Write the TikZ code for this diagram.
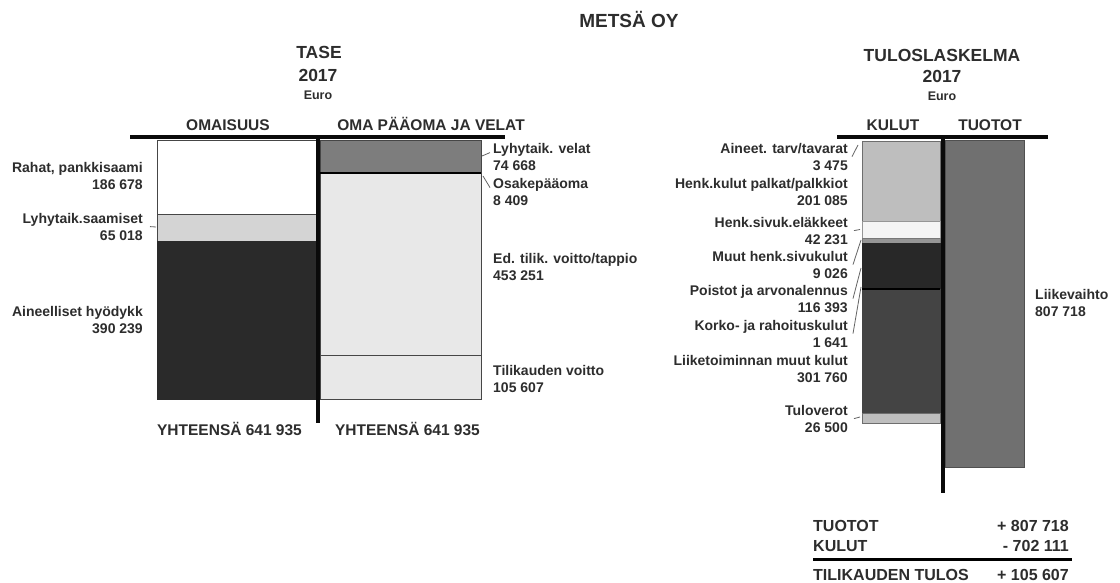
\documentclass[tikz,border=0pt]{standalone}
\usepackage{xcolor}
\usepackage{fontspec}
\setmainfont{Liberation Sans}
\usepackage{tikz}

\begin{document}
\begin{tikzpicture}[x=1pt,y=-1pt]
	\tikzstyle{every node}=[font=\bfseries, inner sep=0pt, text={rgb,255:red,45; green,45; blue,45}]
	\tikzstyle{lbl}=[font=\bfseries\fontsize{14}{17}\selectfont]
	\tikzstyle{head}=[font=\bfseries\fontsize{17.5}{17.5}\selectfont, anchor=base]
	\tikzstyle{colhead}=[font=\bfseries\fontsize{15.5}{15.5}\selectfont, anchor=base]
	\tikzstyle{euro}=[font=\bfseries\fontsize{12.5}{12.5}\selectfont, anchor=base]
	\tikzstyle{tbl}=[font=\bfseries\fontsize{16}{16}\selectfont]
	\tikzstyle{bar}=[line width=4pt, color={rgb,255:red,10; green,10; blue,10}]
	\tikzstyle{leader}=[line width=0.8pt, color={rgb,255:red,100; green,100; blue,100}]
	\useasboundingbox [fill=white] (0,0) rectangle (1120,583);
	\node [head, font=\bfseries\fontsize{19}{19}\selectfont] (metsa) at (629,28) {METSÄ OY};
	% TASE
	\node [head] (tase) at (319,59) {TASE};
	\node [head] (tasevuosi) at (318,82) {2017};
	\node [euro] (taseeuro) at (318,100) {Euro};
	\node [colhead] (omaisuus) at (228,131) {OMAISUUS};
	\node [colhead] (omapaaoma) at (431,131) {OMA PÄÄOMA JA VELAT};
	\draw [color={rgb,255:red,70; green,70; blue,70}, fill=white] (157,140) rectangle (316,214);
	\draw [color={rgb,255:red,70; green,70; blue,70}, fill={rgb,255:red,212; green,212; blue,212}] (157,214) rectangle (316,241);
	\draw [color={rgb,255:red,42; green,42; blue,42}, fill={rgb,255:red,42; green,42; blue,42}] (157,241) rectangle (316,399);
	\draw [color={rgb,255:red,70; green,70; blue,70}, fill={rgb,255:red,125; green,125; blue,125}] (320,140) rectangle (481,173);
	\draw [color={rgb,255:red,70; green,70; blue,70}, fill={rgb,255:red,232; green,232; blue,232}] (320,173) rectangle (481,355);
	\draw [color={rgb,255:red,70; green,70; blue,70}, fill={rgb,255:red,232; green,232; blue,232}] (320,355) rectangle (481,399);
	\draw [line width=2.5pt] (320,173) -- (481,173);
	\draw [bar] (130,137) -- (505,137);
	\draw [bar] (318,137) -- (318,423);
	\node [lbl, anchor=east, align=right] (rahat) at (143,176.3) {Rahat, pankkisaami\\186 678};
	\node [lbl, anchor=east, align=right] (lsaamiset) at (143,226.6) {Lyhytaik.saamiset\\65 018};
	\node [lbl, anchor=east, align=right] (aineelliset) at (143,319.6) {Aineelliset hyödykk\\390 239};
	\node [lbl, anchor=west, align=left] (lvelat) at (493,156.6) {Lyhytaik. velat\\74 668};
	\node [lbl, anchor=west, align=left] (osake) at (493,191.6) {Osakepääoma\\8 409};
	\node [lbl, anchor=west, align=left] (edtilik) at (493,266.6) {Ed. tilik. voitto/tappio\\453 251};
	\node [lbl, anchor=west, align=left] (tilvoitto) at (493,378.6) {Tilikauden voitto\\105 607};
	\coordinate (lsaamisetk) at (156,227);
	\coordinate (lvelatk) at (482,156);
	\coordinate (osakek) at (483,176);
	\draw [leader] ([xshift=7pt]lsaamiset.east) -- (lsaamisetk);
	\draw [leader] ([xshift=-3pt,yshift=4pt]lvelat.west) -- (lvelatk);
	\draw [leader] ([xshift=-3pt,yshift=4pt]osake.west) -- (osakek);
	\node [colhead] (yhtvas) at (229.5,435) {YHTEENSÄ 641 935};
	\node [colhead] (yhtoik) at (407.5,435) {YHTEENSÄ 641 935};
	% TULOSLASKELMA
	\node [head] (tulos) at (942,62) {TULOSLASKELMA};
	\node [head] (tulosvuosi) at (942,83) {2017};
	\node [euro] (tuloseuro) at (942,101) {Euro};
	\node [colhead] (kulut) at (893,131) {KULUT};
	\node [colhead] (tuotot) at (990,131) {TUOTOT};
	\draw [color={rgb,255:red,110; green,110; blue,110}, fill={rgb,255:red,190; green,190; blue,190}] (862,141) rectangle (940,221);
	\draw [color={rgb,255:red,150; green,150; blue,150}, fill={rgb,255:red,245; green,245; blue,245}] (862,221) rectangle (940,238);
	\draw [color={rgb,255:red,120; green,120; blue,120}, fill={rgb,255:red,150; green,150; blue,150}] (862,238) rectangle (940,243);
	\draw [color={rgb,255:red,40; green,40; blue,40}, fill={rgb,255:red,40; green,40; blue,40}] (862,243) rectangle (940,289);
	\draw [color={rgb,255:red,68; green,68; blue,68}, fill={rgb,255:red,68; green,68; blue,68}] (862,289) rectangle (940,413);
	\draw [line width=2.5pt] (862,289) -- (940,289);
	\draw [color={rgb,255:red,110; green,110; blue,110}, fill={rgb,255:red,190; green,190; blue,190}] (862,413) rectangle (940,423);
	\draw [color={rgb,255:red,80; green,80; blue,80}, fill={rgb,255:red,112; green,112; blue,112}] (945,140) rectangle (1024,467);
	\draw [bar] (837,137) -- (1048,137);
	\draw [bar] (943,137) -- (943,493);
	\node [lbl, anchor=east, align=right] (aineet) at (848,156.6) {Aineet. tarv/tavarat\\3 475};
	\node [lbl, anchor=east, align=right] (henkkulut) at (848,191.6) {Henk.kulut palkat/palkkiot\\201 085};
	\node [lbl, anchor=east, align=right] (sivuk) at (848,230.6) {Henk.sivuk.eläkkeet\\42 231};
	\node [lbl, anchor=east, align=right] (muut) at (848,264.6) {Muut henk.sivukulut\\9 026};
	\node [lbl, anchor=east, align=right] (poistot) at (848,298.6) {Poistot ja arvonalennus\\116 393};
	\node [lbl, anchor=east, align=right] (korko) at (848,333.6) {Korko- ja rahoituskulut\\1 641};
	\node [lbl, anchor=east, align=right] (liiketoim) at (848,368.6) {Liiketoiminnan muut kulut\\301 760};
	\node [lbl, anchor=east, align=right] (tulov) at (848,418.6) {Tuloverot\\26 500};
	\node [lbl, anchor=west, align=left] (liikevaihto) at (1035,302.6) {Liikevaihto\\807 718};
	\coordinate (aineetk) at (858,145);
	\coordinate (sivukk) at (860,229.5);
	\coordinate (muutk) at (861,240);
	\coordinate (poistotk) at (861,268);
	\coordinate (korkok) at (861,287);
	\coordinate (tulovk) at (860,417);
	\draw [leader] ([xshift=4pt]aineet.east) -- (aineetk);
	\draw [leader] ([xshift=6pt]sivuk.east) -- (sivukk);
	\draw [leader] ([xshift=5pt]muut.east) -- (muutk);
	\draw [leader] ([xshift=5pt]poistot.east) -- (poistotk);
	\draw [leader] ([xshift=5pt]korko.east) -- (korkok);
	\draw [leader] ([xshift=6pt]tulov.east) -- (tulovk);
	% yhteenveto
	\node [tbl, anchor=base west] (ttuotot) at (813,531) {TUOTOT};
	\node [tbl, anchor=base east] (ttuototsum) at (1069,531) {+ 807 718};
	\node [tbl, anchor=base west] (tkulut) at (813,551) {KULUT};
	\node [tbl, anchor=base east] (tkulutsum) at (1069,551) {- 702 111};
	\draw [line width=3pt] (813,559) -- (1072,559);
	\node [tbl, anchor=base west] (ttulos) at (813,580) {TILIKAUDEN TULOS};
	\node [tbl, anchor=base east] (ttulossum) at (1069,580) {+ 105 607};
\end{tikzpicture}
\end{document}
